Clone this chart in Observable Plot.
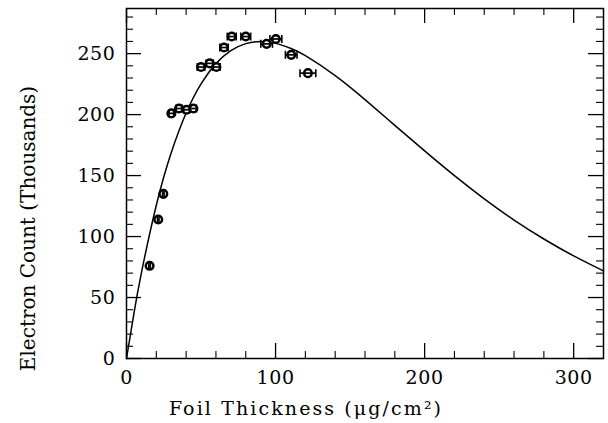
<!DOCTYPE html>
<html>
<head>
<meta charset="utf-8">
<script src="https://cdn.jsdelivr.net/npm/d3@7"></script>
<script src="https://cdn.jsdelivr.net/npm/@observablehq/plot@0.6"></script>
<style>
  html, body { margin: 0; padding: 0; background: white; }
</style>
</head>
<body>
<div id="chart"></div>
<script>
// Measured data points
const thickness = [15.5, 21.3, 24.7, 30.1, 35.2, 40.3, 44.9, 50.0, 55.8, 60.3, 65.4, 70.6, 80.0, 94.0, 100.2, 110.5, 121.7];
const counts    = [76, 114, 135, 201, 205, 204, 205, 239, 242, 239, 255, 264, 264, 258, 262, 249, 234];
const xErr      = [0.5, 0.5, 0.5, 1.5, 2, 2, 2, 2.5, 2.5, 2.5, 2.8, 3, 3.3, 3.9, 4, 3.9, 5.3];

// Fitted curve
const curveX = [0, 5, 10, 20, 30, 40, 50, 60, 70, 80, 90, 100, 110, 120, 140, 160, 180, 200, 220, 240, 260, 280, 300, 320];
const curveY = [0, 37.1, 70.2, 125.7, 168.7, 201.3, 225.2, 241.8, 252.4, 258.2, 259.9, 258.4, 254.4, 248.3, 232.0, 212.3, 191.2, 170.2, 149.9, 130.9, 113.5, 98.0, 84.1, 71.8];

// Ticks
const xMajor = [0, 100, 200, 300];
const xMinor = [20, 40, 60, 80, 120, 140, 160, 180, 220, 240, 260, 280];
const yMajor = [0, 50, 100, 150, 200, 250];
const yMinor = [10, 20, 30, 40, 60, 70, 80, 90, 110, 120, 130, 140, 160, 170, 180, 190, 210, 220, 230, 240, 260, 270, 280];

const xLabel = "Foil Thickness (μg/cm²)";
const yLabel = "Electron Count (Thousands)";

const points = thickness.map((t, i) => ({x: t, y: counts[i], e: xErr[i]}));
const curve = curveX.map((x, i) => ({x, y: curveY[i]}));

const W = 608, H = 423, mL = 126, mR = 5, mT = 8, mB = 65;
const pw = W - mL - mR, ph = H - mT - mB;
const major = 15, minor = 7;

const vbar = {
  draw(ctx, size) {
    const r = Math.sqrt(size / Math.PI);
    ctx.moveTo(0, -r);
    ctx.lineTo(0, r);
  }
};

const chart = Plot.plot({
  width: W, height: H,
  marginLeft: mL, marginRight: mR, marginTop: mT, marginBottom: mB,
  x: {domain: [0, 320]},
  y: {domain: [0, 287]},
  style: {fontFamily: "'DejaVu Serif', serif", fontSize: "19px", background: "white", color: "black"},
  marks: [
    Plot.frame({stroke: "black", strokeWidth: 1.5}),
    Plot.axisX({ticks: xMajor, tickSize: 0, tickPadding: 12, label: null, fontSize: 19}),
    Plot.axisY({ticks: yMajor, tickSize: 0, tickPadding: 11, label: null, fontSize: 19}),
    // inward ticks, bottom & top
    Plot.tickX(xMajor, {x: d => d, insetTop: ph - major, strokeWidth: 1.3}),
    Plot.tickX(xMajor, {x: d => d, insetBottom: ph - major, strokeWidth: 1.3}),
    Plot.tickX(xMinor, {x: d => d, insetTop: ph - minor, strokeWidth: 1.1}),
    Plot.tickX(xMinor, {x: d => d, insetBottom: ph - minor, strokeWidth: 1.1}),
    // inward ticks, left & right
    Plot.tickY(yMajor, {y: d => d, insetRight: pw - major, strokeWidth: 1.3}),
    Plot.tickY(yMajor, {y: d => d, insetLeft: pw - major, strokeWidth: 1.3}),
    Plot.tickY(yMinor, {y: d => d, insetRight: pw - minor, strokeWidth: 1.1}),
    Plot.tickY(yMinor, {y: d => d, insetLeft: pw - minor, strokeWidth: 1.1}),
    // curve
    Plot.line(curve, {x: "x", y: "y", curve: "natural", stroke: "black", strokeWidth: 1.5}),
    // data markers
    Plot.dot(points, {x: "x", y: "y", r: 3.8, fill: "white", stroke: "black", strokeWidth: 2.5}),
    Plot.link(points, {x1: d => d.x - d.e, x2: d => d.x + d.e, y1: "y", y2: "y", stroke: "black", strokeWidth: 1.7}),
    Plot.dot(points, {x: d => d.x - d.e, y: "y", symbol: vbar, r: 4, stroke: "black", strokeWidth: 1.6}),
    Plot.dot(points, {x: d => d.x + d.e, y: "y", symbol: vbar, r: 4, stroke: "black", strokeWidth: 1.6}),
    // axis titles
    Plot.text([xLabel], {text: d => d, frameAnchor: "bottom", textAnchor: "middle", lineAnchor: "middle", dx: -59, dy: 50, fontSize: 19, fill: "black"}),
    Plot.text([yLabel], {text: d => d, frameAnchor: "left", textAnchor: "middle", lineAnchor: "middle", rotate: -90, dx: -98, dy: 45, fontSize: 20, fill: "black"})
  ]
});

// widen letter spacing to match the reference's wide typeface
d3.select(chart).selectAll("text")
  .filter(function() { return this.textContent === xLabel; })
  .attr("letter-spacing", "2.1px");
d3.select(chart).selectAll("text")
  .filter(function() { return /^\d+$/.test(this.textContent); })
  .attr("letter-spacing", "0.6px");

document.getElementById("chart").appendChild(chart);
</script>
</body>
</html>
